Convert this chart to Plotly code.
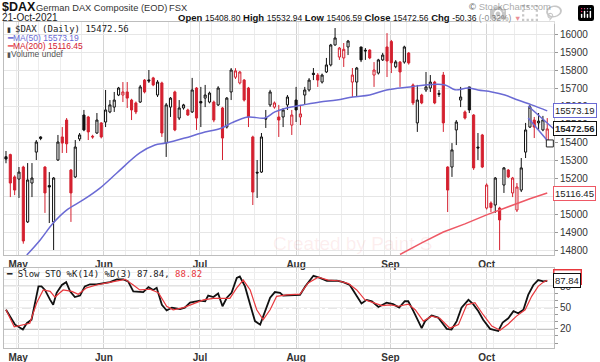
import plotly.graph_objects as go

# ---------------- data ----------------
opens = [15318, 15330, 15206, 15194, 15261, 14956, 15172, 15344, 15428, 15261,
         15158, 14956, 15300, 15428, 15522, 15244, 15206, 15417, 15550, 15539,
         15432, 15450, 15506, 15511, 15567, 15594, 15661, 15661, 15678, 15633,
         15617, 15622, 15744, 15745, 15756, 15661, 15728, 15394, 15594, 15678,
         15533, 15589, 15578, 15567, 15700, 15625, 15644, 15622, 15622, 15606,
         15589, 15483, 15678, 15760, 15728, 15744, 15700, 15428, 15232, 15233,
         15532, 15606, 15594, 15539, 15539, 15606, 15494, 15633, 15539, 15661,
         15689, 15782, 15772, 15733, 15789, 15828, 15939, 15872, 15867, 15928,
         15733, 15733, 15928, 15910, 15911, 15772, 15783, 15856, 15928, 15958,
         15818, 15844, 15844, 15894, 15717, 15506, 15661, 15689, 15700, 15733,
         15670, 15772, 15261, 15261, 15467, 15633, 15567, 15706, 15550, 15372,
         15439, 15033, 15061, 15050, 15033, 15161, 15244, 15117, 15022, 15133,
         15344, 15483, 15522, 15506, 15467, 15408.80]
highs = [15350, 15335, 15215, 15261, 15268, 15283, 15283, 15411, 15432, 15265,
         15233, 15205, 15439, 15483, 15533, 15250, 15411, 15450, 15578, 15545,
         15440, 15561, 15510, 15689, 15633, 15678, 15706, 15733, 15733, 15640,
         15625, 15717, 15750, 15800, 15762, 15744, 15735, 15617, 15650, 15685,
         15633, 15612, 15585, 15756, 15705, 15706, 15717, 15680, 15630, 15710,
         15595, 15650, 15811, 15810, 15795, 15750, 15706, 15435, 15300, 15450,
         15578, 15690, 15625, 15606, 15589, 15661, 15578, 15706, 15606, 15706,
         15755, 15811, 15783, 15780, 15867, 15945, 16033, 15928, 15950, 15967,
         15811, 15817, 15928, 15922, 15915, 15844, 15862, 15895, 16005, 15967,
         15855, 15850, 15935, 15900, 15725, 15717, 15668, 15789, 15772, 15740,
         15689, 15789, 15265, 15394, 15522, 15706, 15575, 15706, 15555, 15450,
         15445, 15170, 15070, 15205, 15040, 15261, 15250, 15206, 15172, 15311,
         15506, 15606, 15539, 15561, 15545, 15532.94]
lows = [15282, 15094, 15105, 15089, 14835, 14950, 15094, 15300, 15410, 15006,
        14950, 14800, 15295, 15339, 15339, 14956, 15200, 15405, 15460, 15411,
        15418, 15445, 15420, 15483, 15560, 15567, 15655, 15622, 15589, 15522,
        15555, 15617, 15670, 15728, 15710, 15650, 15428, 15317, 15539, 15460,
        15522, 15580, 15545, 15561, 15467, 15483, 15594, 15615, 15510, 15600,
        15300, 15475, 15633, 15750, 15720, 15625, 15483, 15050, 15089, 15228,
        15478, 15595, 15585, 15428, 15483, 15578, 15439, 15511, 15494, 15606,
        15680, 15744, 15706, 15725, 15783, 15820, 15935, 15856, 15817, 15883,
        15650, 15650, 15844, 15856, 15860, 15706, 15775, 15850, 15761, 15783,
        15810, 15706, 15835, 15830, 15605, 15456, 15610, 15678, 15678, 15610,
        15650, 15456, 15011, 15206, 15383, 15594, 15525, 15561, 15245, 15300,
        15255, 15025, 15011, 15006, 14800, 15117, 15200, 15094, 15011, 15122,
        15311, 15478, 15422, 15467, 15460, 15406.59]
closes = [15305, 15172, 15133, 15233, 14850, 15189, 15200, 15400, 15420, 15117,
          15150, 15200, 15400, 15394, 15390, 15117, 15372, 15439, 15467, 15456,
          15428, 15522, 15428, 15578, 15606, 15633, 15700, 15678, 15644, 15578,
          15567, 15706, 15678, 15739, 15717, 15733, 15450, 15606, 15644, 15467,
          15589, 15606, 15550, 15689, 15533, 15617, 15661, 15672, 15522, 15700,
          15422, 15644, 15800, 15795, 15789, 15633, 15539, 15122, 15228, 15428,
          15528, 15678, 15617, 15522, 15578, 15650, 15550, 15578, 15556, 15689,
          15744, 15775, 15744, 15772, 15828, 15939, 15978, 15922, 15915, 15961,
          15772, 15811, 15856, 15906, 15867, 15800, 15856, 15883, 15850, 15840,
          15845, 15789, 15928, 15839, 15617, 15633, 15617, 15706, 15733, 15617,
          15665, 15506, 15133, 15356, 15511, 15650, 15533, 15578, 15256, 15367,
          15261, 15161, 15036, 15200, 14967, 15256, 15206, 15200, 15150, 15256,
          15467, 15594, 15483, 15516, 15522.92, 15472.56]

month_pos = [2.8, 22.6, 44.8, 67.0, 88.8, 111.0]
month_labels = ["May", "Jun", "Jul", "Aug", "Sep", "Oct"]

ma50_x = [4.8, 7.9, 10.9, 14, 17.8, 21.7, 25.6, 30.9, 34.4, 36.9, 41.3, 45.2, 49.8,
          52.1, 55.9, 59.8, 62.1, 64.8, 68.6, 72.5, 76.4, 80.1, 84, 87.9, 93.3,
          96.8, 101.4, 103.7, 106.7, 109, 112.2, 115.2, 118.2, 121.4, 125]
ma50_y = [14772, 14856, 14950, 15022, 15078, 15144, 15228, 15339, 15383, 15394,
          15422, 15450, 15478, 15506, 15539, 15533, 15567, 15589, 15606, 15622,
          15633, 15650, 15661, 15689, 15706, 15717, 15717, 15690, 15700, 15689,
          15678, 15661, 15633, 15606, 15573.19]
ma200_x = [91, 96, 101, 106, 111, 116, 121, 125]
ma200_y = [14775, 14840, 14900, 14945, 14995, 15040, 15085, 15116.45]

stoch_k_x = [0, 2.1, 3.9, 4.8, 5.9, 6.7, 7.5, 8.2, 9.0, 10.2, 10.9, 11.7, 12.9, 13.9,
             14.8, 15.9, 17.1, 18.2, 19.4, 20.9, 22.5, 24.0, 25.6, 27.1, 28.2, 29.4,
             31.7, 32.9, 34.0, 34.8, 36.0, 37.1, 38.3, 40.2, 41.3, 42.5, 44.0, 44.8,
             46.0, 46.7, 47.9, 49.0, 50.0, 51.0, 52.1, 53.3, 54.0, 55.2, 56.4, 57.5,
             58.7, 59.8, 61.0, 62.1, 63.3, 64.0, 66.4, 67.9, 69.1, 71.0, 72.5, 74.1,
             76.4, 77.9, 79.4, 80.6, 82.1, 83.3, 84.5, 86.0, 87.9, 89.4, 90.8, 92.1,
             92.9, 94.1, 96.0, 96.8, 98.3, 99.8, 101.8, 102.9, 104.1, 105.2, 106.8,
             107.9, 109.1, 110.2, 111.8, 113.7, 114.7, 116.0, 117.2, 118.3, 119.5,
             120.6, 121.8, 122.9, 124.1, 125]
stoch_k = [47, 26, 19, 28, 33, 57, 80, 80, 75, 61, 54, 71, 82, 86, 73, 65, 67, 80, 83,
           83, 85, 86, 90, 90, 87, 73, 72, 79, 75, 78, 54, 46, 50, 48, 50, 57, 59, 60,
           59, 67, 65, 70, 52, 64, 71, 92, 94, 80, 54, 31, 26, 43, 64, 72, 71, 67, 68,
           68, 80, 95, 92, 88, 88, 86, 82, 71, 56, 61, 59, 51, 57, 55, 50, 59, 59, 45,
           21, 31, 39, 36, 20, 19, 31, 50, 61, 55, 45, 33, 20, 17, 29, 35, 45, 42, 47,
           68, 82, 89, 87, 87.84]
stoch_d_x = [0, 1.9, 5.5, 7.1, 8.6, 10.2, 11.3, 13.2, 15.2, 16.7, 18.6, 20.9, 23.3,
             25.6, 27.5, 29.4, 30.9, 33.3, 35.2, 37.1, 38.6, 41.0, 43.3, 45.6, 47.9,
             49.8, 51.7, 53.3, 54.8, 56.4, 57.9, 59.4, 61.0, 62.5, 64.8, 67.9, 69.8,
             72.1, 74.4, 76.7, 79.1, 81.0, 82.9, 84.8, 86.8, 88.7, 90.6, 92.9, 94.5,
             96.4, 98.3, 100.2, 102.5, 104.5, 106.4, 108.3, 110.2, 112.2, 114.1,
             116.0, 117.9, 119.9, 121.4, 122.9, 124.1, 125]
stoch_d = [47, 23, 28, 57, 75, 73, 65, 75, 73, 69, 78, 82, 85, 88, 90, 82, 75, 76, 71,
           52, 47, 50, 56, 61, 63, 63, 63, 78, 89, 75, 47, 33, 47, 66, 68, 69, 85, 93,
           89, 88, 84, 75, 61, 57, 53, 54, 52, 55, 47, 31, 38, 35, 21, 26, 54, 57, 40,
           24, 18, 27, 38, 47, 66, 80, 86, 88.82]

# user-drawn trend lines (flag) on the chart
trend_upper_x = [120.6, 126.4]
trend_upper_y = [15600, 15475]
trend_lower_x = [120.6, 125.6]
trend_lower_y = [15533, 15392]

sto_levels = [20, 50, 80]

# ---------------- geometry ----------------
W, H = 600, 362
ML, MR, MT, MB = 4, 46, 22, 14
PW = W - ML - MR
PH = H - MT - MB


def px(x):
    return (x - ML) / PW


def py(y):
    return (H - MB - y) / PH


RED = "#d4202f"
BLUE = "#6a6ad4"
MA200C = "#ee5865"

idx = list(range(len(closes)))
black_sel = [i for i in idx if i == 0 or closes[i] >= closes[i - 1]]
red_sel = [i for i in idx if i not in black_sel]

fig = go.Figure()


def candles(sel, color):
    return go.Candlestick(
        x=[idx[i] for i in sel],
        open=[opens[i] for i in sel],
        high=[highs[i] for i in sel],
        low=[lows[i] for i in sel],
        close=[closes[i] for i in sel],
        increasing=dict(line=dict(color=color, width=1), fillcolor="white"),
        decreasing=dict(line=dict(color=color, width=1), fillcolor=color),
        whiskerwidth=0, showlegend=False, hoverinfo="skip",
        xaxis="x", yaxis="y")


fig.add_trace(go.Scatter(x=ma200_x, y=ma200_y, mode="lines",
                         line=dict(color=MA200C, width=1.5), showlegend=False,
                         hoverinfo="skip", xaxis="x", yaxis="y"))
fig.add_trace(go.Scatter(x=ma50_x, y=ma50_y, mode="lines", line_shape="spline",
                         line=dict(color=BLUE, width=1.5), showlegend=False,
                         hoverinfo="skip", xaxis="x", yaxis="y"))
fig.add_trace(candles(black_sel, "#111111"))
fig.add_trace(candles(red_sel, RED))
fig.add_trace(go.Scatter(x=trend_upper_x, y=trend_upper_y, mode="lines",
                         line=dict(color=BLUE, width=1.5), showlegend=False,
                         hoverinfo="skip", xaxis="x", yaxis="y"))
fig.add_trace(go.Scatter(x=trend_lower_x, y=trend_lower_y, mode="lines",
                         line=dict(color=BLUE, width=1.5), showlegend=False,
                         hoverinfo="skip", xaxis="x", yaxis="y"))
fig.add_trace(go.Scatter(x=trend_lower_x[-1:], y=trend_lower_y[-1:], mode="markers",
                         marker=dict(symbol="square", size=7, color="white",
                                     line=dict(color="#222", width=1)),
                         showlegend=False, hoverinfo="skip", xaxis="x", yaxis="y"))

fig.add_trace(go.Scatter(x=stoch_k_x, y=stoch_k, mode="lines",
                         line=dict(color="#111111", width=1.8), showlegend=False,
                         hoverinfo="skip", xaxis="x2", yaxis="y2"))
fig.add_trace(go.Scatter(x=stoch_d_x, y=stoch_d, mode="lines",
                         line=dict(color="#e8383d", width=1.2), showlegend=False,
                         hoverinfo="skip", xaxis="x2", yaxis="y2"))

xr = [-0.46, -0.46 + PW / 4.33]
y_top_price = 16000 + (34 - MT) / 0.18
y_bot_price = 16000 - (255 - 34) / 0.18

common_x = dict(range=xr, tickmode="array", tickvals=month_pos,
                ticktext=["<b>%s</b>" % m for m in month_labels],
                tickfont=dict(size=10, color="#333"), ticks="",
                showgrid=True, gridcolor="#d4d4d4", gridwidth=1,
                minor=dict(tickmode="linear", tick0=2.5, dtick=5, showgrid=True,
                           gridcolor="#ececec", ticks=""),
                showline=True, linecolor="#bdbdbd", mirror=True, zeroline=False,
                fixedrange=True, automargin=False)

fig.update_layout(
    width=W, height=H, autosize=False,
    margin=dict(l=ML, r=MR, t=MT, b=MB, pad=0),
    paper_bgcolor="white", plot_bgcolor="white",
    font=dict(family="Liberation Sans", size=10, color="#222"),
    hovermode=False, showlegend=False,
    xaxis=dict(anchor="y", domain=[0, 1], rangeslider=dict(visible=False), **common_x),
    xaxis2=dict(anchor="y2", domain=[0, 1], **common_x),
    yaxis=dict(anchor="x", domain=[py(255), 1.0], side="right",
               range=[y_bot_price, y_top_price], tickmode="linear", tick0=14800, dtick=100,
               tickformat="d", ticks="outside", ticklen=3, tickcolor="#999",
               tickfont=dict(size=10, color="#333"), automargin=False,
               showgrid=True, gridcolor="#e6e6e6", showline=True, linecolor="#bdbdbd",
               mirror=True, zeroline=False, fixedrange=True),
    yaxis2=dict(anchor="x2", domain=[0, py(268)], side="right",
                range=[-7.0, 106], tickmode="array",
                tickvals=list(range(0, 101, 10)),
                ticktext=[str(v) if v in sto_levels else "" for v in range(0, 101, 10)],
                ticks="outside", ticklen=3, tickcolor="#999",
                tickfont=dict(size=10, color="#333"), automargin=False,
                showgrid=True, gridcolor="#efefef", showline=True, linecolor="#bdbdbd",
                mirror=True, zeroline=False, fixedrange=True),
)

for lv in sto_levels:
    fig.add_shape(type="line", xref="x2 domain", x0=0, x1=1, yref="y2", y0=lv, y1=lv,
                  line=dict(color="#8c8c8c" if lv != 50 else "#9a9a9a",
                            width=1.3 if lv != 50 else 1.2,
                            dash="solid" if lv != 50 else "dashdot"), layer="below")

ann = []


def A(x, y, text, size=10, color="#222", family=None, xanchor="left", **kw):
    f = dict(size=size, color=color)
    if family:
        f["family"] = family
    ann.append(dict(x=px(x), y=py(y), xref="paper", yref="paper", text=text,
                    showarrow=False, xanchor=xanchor, yanchor="middle", font=f, **kw))


# header
A(0, 7.5, "<b>$DAX</b>", size=12.5, color="#111")
A(34, 8, "German DAX Composite (EOD)", size=9.3, color="#333")
A(167, 8, "FSX", size=9.3, color="#333")
A(553, 6.5, "© StockCharts.com", size=9.5, color="#555", xanchor="right")
A(0, 17, "21-Oct-2021", size=10, color="#222")
chg = closes[-1] - closes[-2]
pct = chg / closes[-2] * 100
hdr = ("<b>Open</b> <span style='font-size:8.5px'>%.2f</span> "
       "<b>High</b> <span style='font-size:8.5px'>%.2f</span> "
       "<b>Low</b> <span style='font-size:8.5px'>%.2f</span> "
       "<b>Close</b> <span style='font-size:8.5px'>%.2f</span> "
       "<b>Chg</b> <span style='font-size:8.5px'>%.2f (%.2f%%)</span> "
       "<span style='color:%s;font-size:7.5px'>▼</span>") % (
    opens[-1], highs[-1], lows[-1], closes[-1], chg, pct, RED)
A(176, 17, hdr, size=9.5, color="#111", xanchor="left")

# legend in price panel
A(5, 29.5, "▮", size=7, color="#333")
A(13, 29.5, "$DAX (Daily) %.2f" % closes[-1], size=9, color="#222", family="DejaVu Sans Mono")
A(5, 37.8, "<span style='color:%s'>━</span>MA(50) %.2f" % (BLUE, ma50_y[-1]),
  size=8.5, color=BLUE)
A(5, 46, "<span style='color:%s'>━</span>MA(200) %.2f" % (MA200C, ma200_y[-1]),
  size=8.5, color=RED)
A(5, 54.3, "<span style='font-size:7px'>▮</span>Volume undef", size=8.5, color="#555")

# legend in stochastic panel
A(4, 273.8, "━ Slow STO %%K(14) %%D(3) %.2f, <span style='color:%s'>%.2f</span>"
  % (stoch_k[-1], "#e8383d", stoch_d[-1]), size=9, color="#222", family="DejaVu Sans Mono")

# watermark
A(352, 243, "Created by Paint S", size=19, color="rgba(235,120,120,0.13)", xanchor="center")

# right-side value tags
for val, txt, bc in [(ma50_y[-1], "%.2f" % ma50_y[-1], BLUE),
                     (ma200_y[-1], "%.2f" % ma200_y[-1], MA200C),
                     (closes[-1], "<b>%.2f</b>" % closes[-1], "#111")]:
    ann.append(dict(x=px(553), xref="paper", y=val, yref="y", text=txt, showarrow=False,
                    xanchor="left", yanchor="middle", font=dict(size=9.5, color="#222"),
                    bgcolor="white", bordercolor=bc, borderwidth=1, borderpad=1))
ann.append(dict(x=px(553), xref="paper", y=stoch_d[-1], yref="y2", yshift=3,
                text="%.2f" % stoch_d[-1], showarrow=False, xanchor="left",
                yanchor="middle", font=dict(size=9.5, color="#222"), bgcolor="white",
                bordercolor="#e8383d", borderwidth=1.5, borderpad=1))
ann.append(dict(x=px(553), xref="paper", y=stoch_k[-1], yref="y2",
                text="%.2f" % stoch_k[-1], showarrow=False, xanchor="left",
                yanchor="middle", font=dict(size=9.5, color="#222"), bgcolor="white",
                bordercolor="#111", borderwidth=1, borderpad=1))

fig.update_layout(annotations=ann)
fig.write_html("out.html",
               post_script="document.body.style.margin='0';document.body.style.overflow='hidden';")
